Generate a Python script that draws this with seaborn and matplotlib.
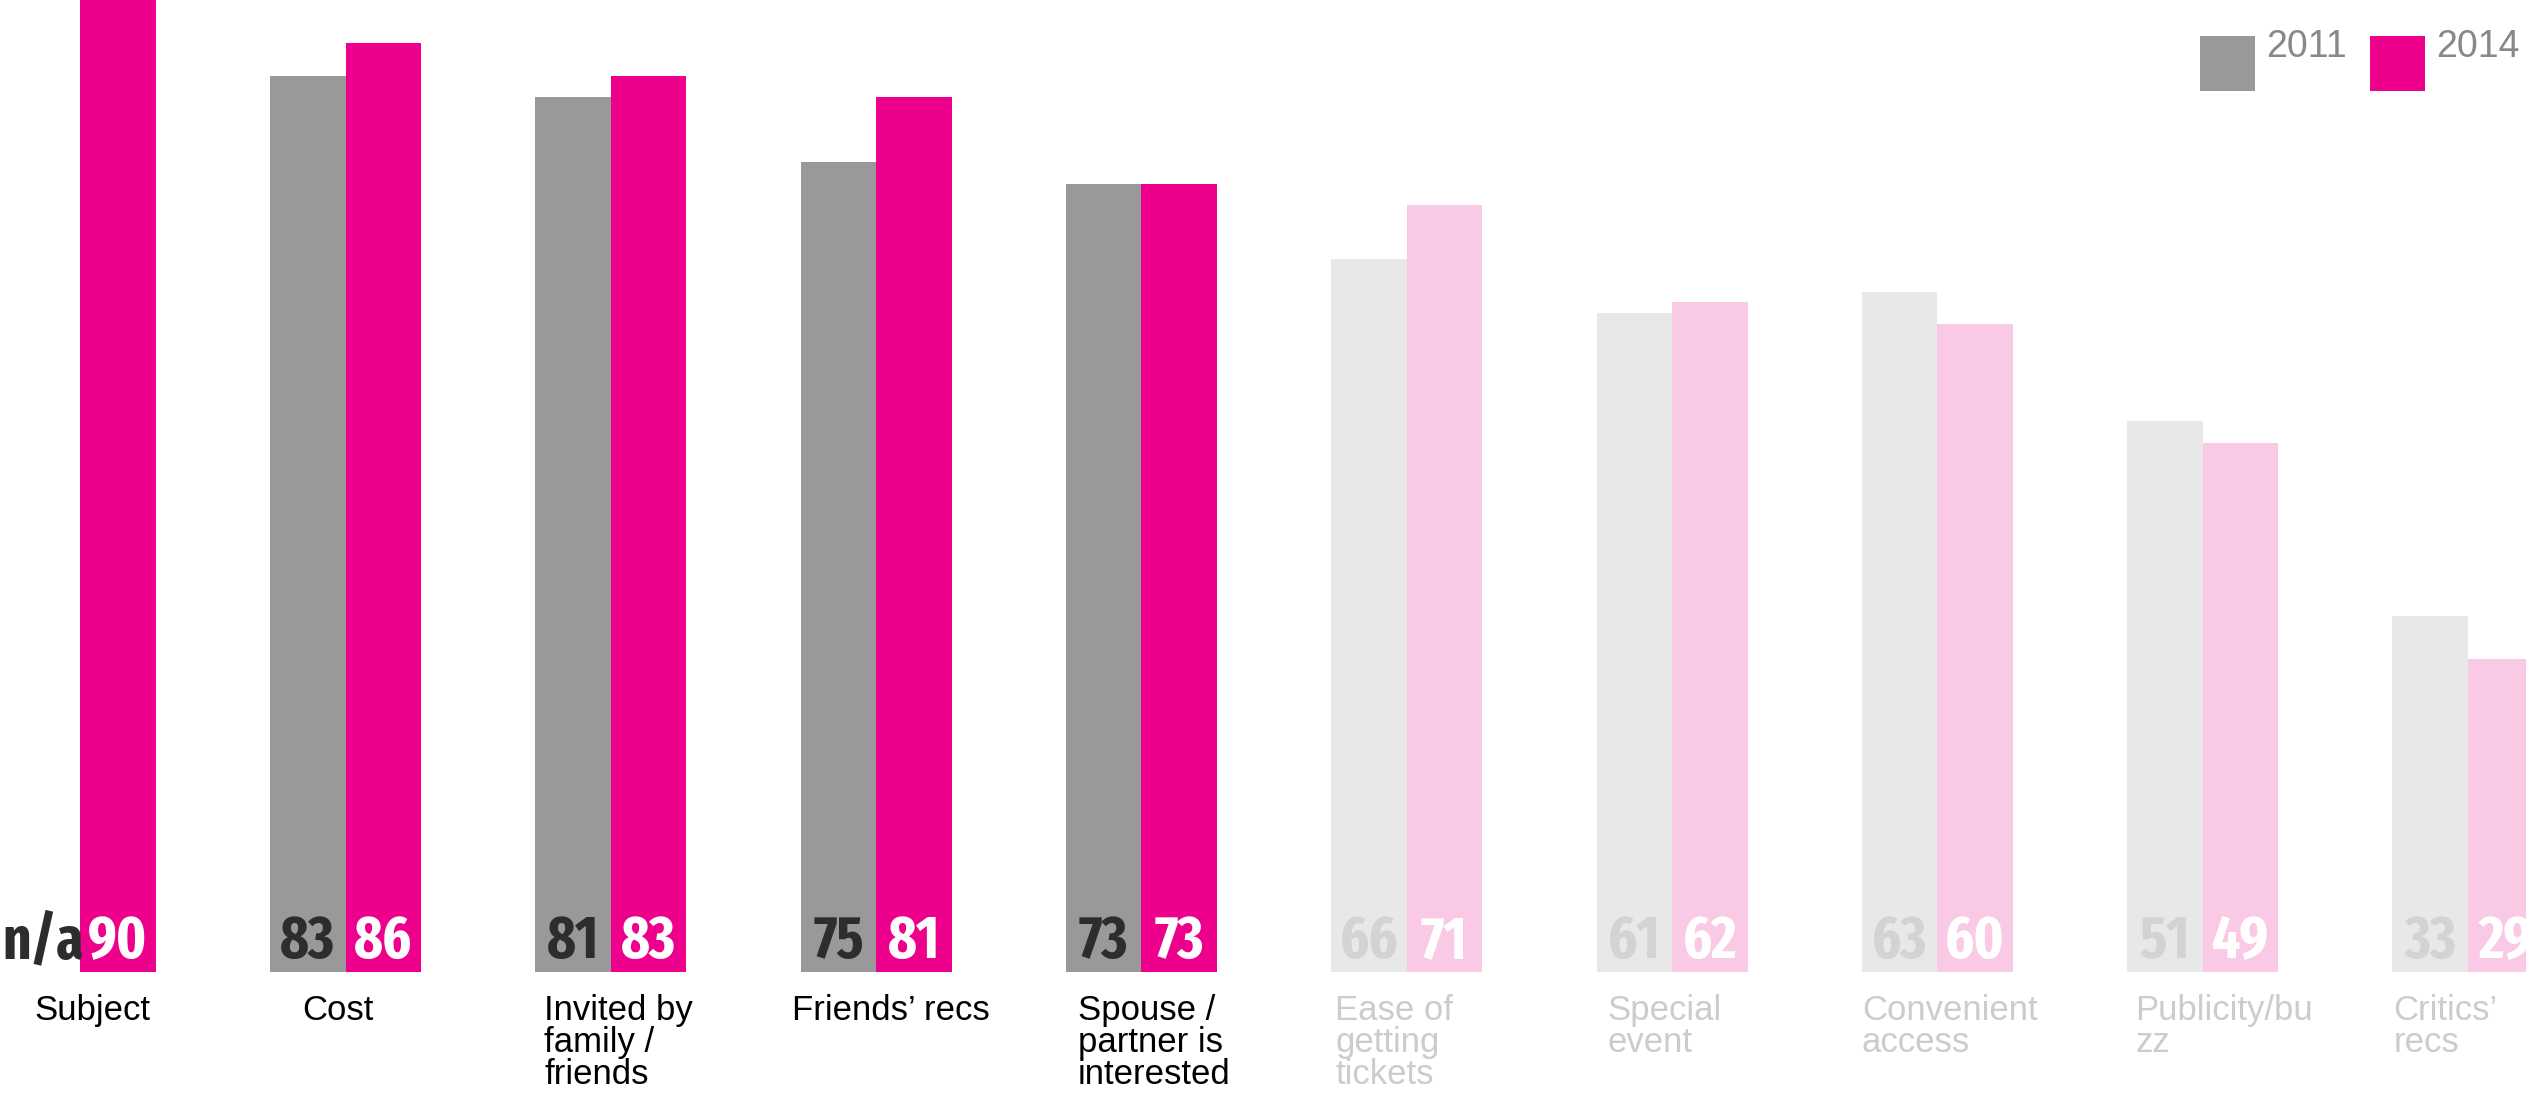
import matplotlib
matplotlib.use("Agg")
import numpy as np
import pandas as pd
import seaborn as sns
import matplotlib.pyplot as plt
from matplotlib.patches import Rectangle
from matplotlib.transforms import blended_transform_factory, offset_copy

# ---- data -------------------------------------------------------------
categories = [
    "Subject", "Cost", "Invited by\nfamily /\nfriends", "Friends’ recs",
    "Spouse /\npartner is\ninterested", "Ease of\ngetting\ntickets",
    "Special\nevent", "Convenient\naccess", "Publicity/bu\nzz", "Critics’\nrecs",
]
values_2011 = [np.nan, 83, 81, 75, 73, 66, 61, 63, 51, 33]
values_2014 = [90, 86, 83, 81, 73, 71, 62, 60, 49, 29]
years = ["2011", "2014"]
n_highlight = 5  # first factors drawn in full colour, the rest faded

# ---- style ------------------------------------------------------------
sns.set_style("white")
plt.rcParams["font.family"] = ["Liberation Sans", "DejaVu Sans"]

num_font = dict(family=["Fira Sans Extra Condensed", "DejaVu Sans"],
                fontweight="bold", fontsize=43)

colors = {"2011": "#999999", "2014": "#EC008C"}
faded = {"2011": "#E8E8E8", "2014": "#F9C9E5"}
num_colors = {"2011": "#2d2d2d", "2014": "white"}
num_faded = {"2011": "#d3d3d3", "2014": "white"}

W, H = 2526, 1094
fig = plt.figure(figsize=(W / 100, H / 100), dpi=100)
ax = fig.add_axes([0, 122 / H, 1, 972 / H])

df = pd.concat([
    pd.DataFrame({"factor": categories, "year": "2011", "value": values_2011}),
    pd.DataFrame({"factor": categories, "year": "2014", "value": values_2014}),
], ignore_index=True)

bar_width = 0.569
sns.barplot(data=df, x="factor", y="value", hue="year", order=categories,
            hue_order=years, palette=colors, width=bar_width, saturation=1,
            linewidth=0, errorbar=None, legend=False, ax=ax)

# fade the lower-ranked factors
for p in ax.patches:
    cx = p.get_x() + p.get_width() / 2
    idx = int(round(cx))
    if idx >= n_highlight:
        p.set_facecolor(faded["2011"] if cx < idx else faded["2014"])

ax.set_xlim(-0.3027, 9.219)
ax.set_ylim(0, 90)
ax.axis("off")

# value labels at the foot of each bar
for i in range(len(categories)):
    for j, (yr, vals) in enumerate(zip(years, [values_2011, values_2014])):
        v = vals[i]
        x = i + (-1 if j == 0 else 1) * bar_width / 4
        if np.isnan(v):
            txt, col = "n/a", num_colors["2011"]
        else:
            txt = f"{v:.0f}"
            col = num_colors[yr] if i < n_highlight else num_faded[yr]
        ax.text(x, 1.3, txt, ha="center", va="baseline", color=col, **num_font)

# category labels beneath the bars
label_nudge_px = [30, 32, 9, -9, 12, 4, 11, 0, 8, 1]
base = blended_transform_factory(ax.transData, fig.transFigure)
for i, cat in enumerate(categories):
    tr = offset_copy(base, fig=fig, x=label_nudge_px[i], y=0, units="dots")
    ax.text(i - bar_width / 2, 1 - 994 / H, cat, transform=tr, ha="left", va="top",
            fontsize=25, linespacing=0.97,
            color="black" if i < n_highlight else "#cccccc", clip_on=False)

# legend
for (x0, yr) in [(2200, "2011"), (2370, "2014")]:
    fig.patches.append(Rectangle((x0 / W, 1 - 91 / H), 55 / W, 55 / H,
                                 transform=fig.transFigure, facecolor=colors[yr],
                                 edgecolor="none"))
    fig.text((x0 + 66) / W, 1 - 29 / H, yr, ha="left", va="top", fontsize=27,
             color="#888888")

fig.savefig("out.png", dpi=100)
